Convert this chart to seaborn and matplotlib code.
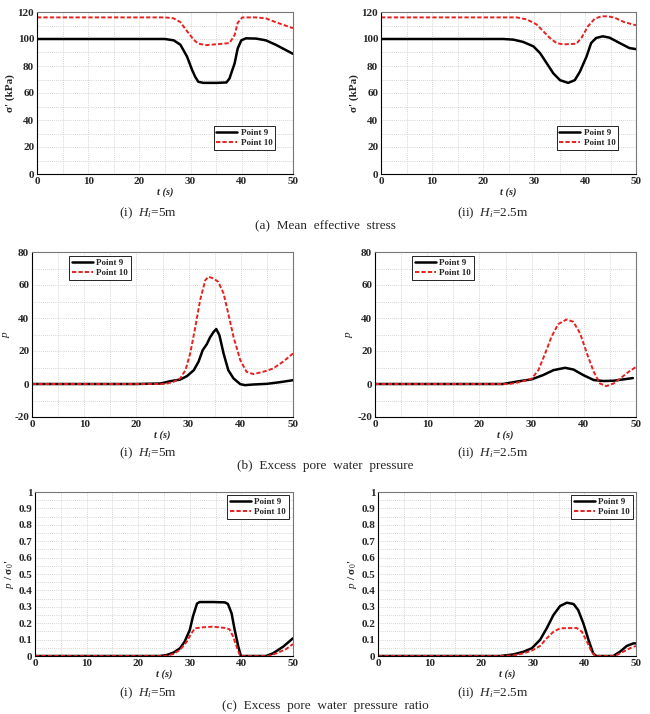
import numpy as np
import pandas as pd
import matplotlib
matplotlib.use("Agg")
import matplotlib.pyplot as plt
from matplotlib.ticker import MultipleLocator, FuncFormatter
import seaborn as sns

sns.set_theme(style="white")
plt.rcParams['font.family'] = ['Liberation Serif', 'DejaVu Serif']
plt.rcParams['mathtext.fontset'] = 'custom'
plt.rcParams['mathtext.rm'] = 'Liberation Serif'
plt.rcParams['mathtext.it'] = 'Liberation Serif:italic'
plt.rcParams['mathtext.bf'] = 'Liberation Serif:bold'
plt.rcParams['axes.unicode_minus'] = False

# ---------------- data ----------------
# (a)(i) mean effective stress, Hi = 5 m
a1_t9 = [0, 10, 20, 25, 26.7, 28.0, 29.3, 30.3, 30.9, 31.5, 32.5, 35.0, 37.0, 37.6, 38.6, 39.2, 39.9, 40.8, 42.8, 44.7, 46.6, 48.5, 50]
a1_v9 = [100, 100, 100, 100, 99, 95.8, 87, 77, 72, 68.3, 67.5, 67.5, 67.8, 70.8, 82, 93, 99, 100.5, 100.3, 99, 95.8, 92, 89]
a1_t10 = [0, 10, 20, 25, 26.7, 28.0, 29.3, 30.6, 31.5, 33.1, 35.7, 37.6, 38.6, 39.2, 40.1, 42.8, 44.7, 46.6, 50]
a1_v10 = [116, 116, 116, 116, 115.3, 112.5, 105.8, 99.5, 96.5, 95.5, 96.3, 97, 103, 112, 116, 116, 115.3, 112.5, 108]
# (a)(ii) Hi = 2.5 m
a2_t9 = [0, 10, 20, 24, 26.0, 27.9, 29.9, 31.2, 32.5, 33.8, 35.1, 36.7, 38.0, 39.0, 40.3, 41.2, 42.2, 43.5, 44.8, 46.8, 48.7, 50]
a2_v9 = [100, 100, 100, 100, 99.5, 97.8, 94.5, 89.5, 82, 74.5, 69.5, 67.5, 69.5, 75.8, 87, 97, 100.8, 102, 101, 97, 93.3, 92.5]
a2_t10 = [0, 10, 20, 24, 26.6, 28.6, 30.5, 31.8, 33.1, 34.4, 35.7, 38.3, 39.3, 40.6, 41.9, 43.2, 44.5, 45.8, 47.7, 50]
a2_v10 = [116, 116, 116, 116, 116, 114.5, 110.8, 105.8, 100.8, 97, 96, 96.5, 100.8, 109.5, 115, 116.8, 116.8, 115.8, 112.5, 110.2]

# (b)(i) excess pore water pressure, Hi = 5 m
b1_t9 = [0, 10, 20, 24.6, 26.5, 28.4, 29.7, 31.0, 31.9, 32.7, 33.5, 34.1, 34.8, 35.3, 35.9, 36.7, 37.6, 38.6, 39.9, 40.8, 42.4, 45.0, 47.5, 50]
b1_v9 = [0, 0, 0, 0.3, 1.7, 2.7, 4.8, 8.4, 13.5, 20.5, 24.2, 28.2, 31.6, 33.3, 29.6, 18.5, 8.4, 3.4, -0.1, -0.7, -0.3, 0.1, 1.1, 2.3]
b1_t10 = [0, 10, 20, 25.5, 27.1, 28.4, 29.4, 30.3, 31.3, 32.2, 33.2, 33.8, 34.8, 35.7, 36.7, 37.6, 38.6, 39.9, 41.1, 42.4, 44.3, 46.2, 48.1, 50]
b1_v10 = [0, 0, 0, 0, 1.3, 3.4, 8.4, 18.5, 34.7, 50.8, 62.9, 65, 63.9, 61.9, 54.9, 42.7, 28.6, 14.5, 7.4, 6, 7.4, 9.4, 13.5, 18.5]
# (b)(ii) Hi = 2.5 m
b2_t9 = [0, 10, 20, 24.5, 25.8, 27.8, 30.0, 32.2, 34.2, 36.4, 38.0, 39.9, 41.9, 43.8, 45.7, 47.6, 49.4]
b2_v9 = [0, 0, 0, 0, 0.7, 1.8, 2.8, 5.4, 8.4, 9.8, 8.8, 5.4, 2.4, 1.8, 2.0, 2.8, 3.6]
b2_t10 = [0, 10, 20, 25.8, 27.8, 30.0, 31.3, 32.6, 33.8, 35.1, 36.7, 38.0, 39.3, 40.6, 41.9, 43.1, 44.3, 45.7, 47.0, 48.6, 50]
b2_v10 = [0, 0, 0, 0, 1.2, 3.2, 8.4, 18.5, 28.6, 36.3, 39.1, 37.7, 30.6, 18.5, 7.4, 0.3, -1.3, 0.3, 3.4, 7.4, 10.3]

# (c)(i) excess pore water pressure ratio, Hi = 5 m
c1_t9 = [0, 10, 20, 24.2, 25.5, 26.8, 28.1, 29.0, 30.0, 30.6, 31.4, 31.9, 34.5, 36.8, 37.4, 38.1, 38.7, 39.4, 39.9, 44.8, 46.1, 48.1, 50]
c1_v9 = [0, 0, 0, 0, 0.006, 0.02, 0.047, 0.087, 0.159, 0.24, 0.32, 0.329, 0.329, 0.327, 0.317, 0.26, 0.159, 0.057, 0, 0, 0.016, 0.057, 0.108]
c1_t10 = [0, 10, 20, 24.2, 25.5, 26.8, 28.1, 29.4, 30.3, 31.0, 32.6, 34.5, 36.8, 37.7, 38.4, 39.2, 39.7, 40.0, 45.2, 46.8, 48.7, 50]
c1_v10 = [0, 0, 0, 0, 0.002, 0.012, 0.037, 0.087, 0.138, 0.169, 0.175, 0.179, 0.171, 0.163, 0.118, 0.047, 0.004, 0, 0, 0.016, 0.043, 0.073]
# (c)(ii) Hi = 2.5 m
c2_t9 = [0, 10, 20, 23.7, 26.3, 28.2, 29.8, 31.4, 32.7, 34.0, 35.3, 36.6, 37.9, 38.8, 39.8, 40.8, 41.7, 42.3, 45.6, 46.9, 48.2, 49.5, 50]
c2_v9 = [0, 0, 0, 0, 0.01, 0.026, 0.047, 0.098, 0.169, 0.25, 0.305, 0.325, 0.317, 0.28, 0.199, 0.098, 0.016, 0, 0, 0.026, 0.061, 0.077, 0.077]
c2_t10 = [0, 10, 20, 23.7, 26.3, 28.2, 29.8, 31.4, 32.7, 34.0, 35.3, 38.5, 39.5, 40.5, 41.4, 42.1, 45.9, 47.5, 49.2, 50]
c2_v10 = [0, 0, 0, 0, 0.004, 0.016, 0.033, 0.061, 0.108, 0.148, 0.169, 0.171, 0.148, 0.087, 0.026, 0, 0, 0.026, 0.053, 0.061]

series_names = ["Point 9", "Point 10"]
sub_captions = ["(i)  $H_i$=5m", "(ii)  $H_i$=2.5m"]
row_captions = ["(a)  Mean  effective  stress", "(b)  Excess  pore  water  pressure",
                "(c)  Excess  pore  water  pressure  ratio"]

def frame(t9, v9, t10, v10):
    return pd.DataFrame({
        "t": list(t9) + list(t10),
        "v": list(v9) + list(v10),
        "s": [series_names[0]] * len(t9) + [series_names[1]] * len(t10),
    })

panels = [
    [frame(a1_t9, a1_v9, a1_t10, a1_v10), frame(a2_t9, a2_v9, a2_t10, a2_v10)],
    [frame(b1_t9, b1_v9, b1_t10, b1_v10), frame(b2_t9, b2_v9, b2_t10, b2_v10)],
    [frame(c1_t9, c1_v9, c1_t10, c1_v10), frame(c2_t9, c2_v9, c2_t10, c2_v10)],
]

W, H = 650, 714
fig = plt.figure(figsize=(W / 100, H / 100), dpi=100)

def rect(l, r, t, b):
    return [l / W, 1 - b / H, (r - l) / W, (b - t) / H]

rects = [
    [rect(37, 293, 12, 174), rect(381, 636, 12, 174)],
    [rect(32, 293, 252, 417), rect(375, 636, 252, 417)],
    [rect(35, 293, 492, 656), rect(378, 636, 492, 656)],
]

ylims = [(0, 120), (-20, 80), (0, 1)]
ymaj = [20, 20, 0.1]
ymin = [10, 10, 0.05]
ylabels = ["σ' (kPa)", "$\\mathit{p}$", "$\\mathit{p}$ / σ$_0$'"]
legend_locs = [
    [('lower right', (0.93, 0.148)), ('lower right', (0.93, 0.148))],
    [('upper left', (0.142, 0.976)), ('upper left', (0.142, 0.976))],
    [('upper right', (0.984, 0.98)), ('upper right', (0.988, 0.98))],
]

palette = {"Point 9": "black", "Point 10": "#e8201e"}
dashes = {"Point 9": "", "Point 10": (2.2, 1.1)}
widths = {"Point 9": 1.8, "Point 10": 1.4}

for r in range(3):
    for c in range(2):
        ax = fig.add_axes(rects[r][c])
        df = panels[r][c]
        sns.lineplot(data=df, x="t", y="v", hue="s", style="s", palette=palette,
                     dashes=dashes, ax=ax, sort=False, estimator=None,
                     linewidth=1.6, legend=True)
        for ln, name in zip(ax.get_lines(), series_names):
            ln.set_linewidth(widths[name])
        ax.set_xlim(0, 50)
        ax.set_ylim(*ylims[r])
        ax.xaxis.set_major_locator(MultipleLocator(10))
        ax.xaxis.set_minor_locator(MultipleLocator(5))
        ax.yaxis.set_major_locator(MultipleLocator(ymaj[r]))
        ax.yaxis.set_minor_locator(MultipleLocator(ymin[r]))
        ax.grid(True, which='both', color='#c8c8c8', linestyle=(0, (1, 1.5)), linewidth=0.6)
        ax.set_axisbelow(True)
        ax.tick_params(which='both', direction='in', top=False, right=False,
                       length=3, width=0.8, pad=2, labelsize=8)
        ax.tick_params(which='minor', length=1.8)
        if r == 2:
            ax.yaxis.set_major_formatter(FuncFormatter(
                lambda v, p: "0" if abs(v) < 1e-9 else ("1" if abs(v - 1) < 1e-9 else f"{v:.1f}")))
        for lab in ax.get_xticklabels() + ax.get_yticklabels():
            lab.set_fontweight('bold')
            lab.set_fontfamily('Liberation Serif')
        for sp in ax.spines.values():
            sp.set_color('#777777')
            sp.set_linewidth(0.8)
        ax.spines['left'].set_color('black')
        ax.spines['bottom'].set_color('black')
        ax.set_xlabel("t (s)", fontsize=7.5, fontweight='bold', fontstyle='italic', labelpad=1)
        ax.set_ylabel(ylabels[r], fontsize=8, fontweight='bold', labelpad=2)
        loc, anchor = legend_locs[r][c]
        leg = ax.legend(loc=loc, bbox_to_anchor=anchor,
                        prop=dict(family='Liberation Serif', weight='bold', size=6.5),
                        frameon=True, fancybox=False, edgecolor='black', framealpha=1,
                        handlelength=2.3, handletextpad=0.4, borderpad=0.3,
                        labelspacing=0.2, borderaxespad=0)
        leg.get_frame().set_linewidth(0.6)
        for ln, name in zip(leg.get_lines(), series_names):
            ln.set_linewidth(widths[name])

# captions
sub_y = [213, 453, 693]
row_y = [226, 466, 706]
for r in range(3):
    fig.text(148 / W, 1 - sub_y[r] / H, sub_captions[0], ha='center', va='center', fontsize=9.5)
    fig.text(493 / W, 1 - sub_y[r] / H, sub_captions[1], ha='center', va='center', fontsize=9.5)
    fig.text(325 / W, 1 - row_y[r] / H, row_captions[r], ha='center', va='center', fontsize=9.5)

fig.savefig("out.png", dpi=100)
